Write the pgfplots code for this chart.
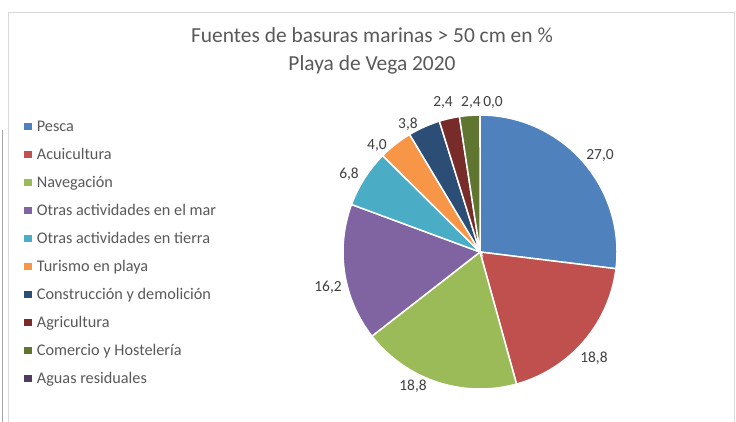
\documentclass[border=0pt]{standalone}
\usepackage{pgfplots}
\pgfplotsset{compat=1.18}
\usepackage{pgfplotstable}
\usepackage{fontspec}
\setmainfont{Carlito}

\definecolor{pc0}{HTML}{4F81BD}
\definecolor{pc1}{HTML}{C0504D}
\definecolor{pc2}{HTML}{9BBB59}
\definecolor{pc3}{HTML}{8064A2}
\definecolor{pc4}{HTML}{4BACC6}
\definecolor{pc5}{HTML}{F79646}
\definecolor{pc6}{HTML}{2C4D75}
\definecolor{pc7}{HTML}{772C2A}
\definecolor{pc8}{HTML}{5F7530}
\definecolor{pc9}{HTML}{4D3B62}
\definecolor{ttl}{HTML}{595959}
\definecolor{lbl}{HTML}{404040}

% value = share in %, lx/ly = position of the data label (pie radius = 1)
\pgfplotstableread{
value lx ly
27.0  0.876  0.708
18.8  0.832 -0.774
18.8 -0.489 -0.978
16.2 -1.109 -0.255
6.8  -0.956  0.569
4.0  -0.752  0.781
3.8  -0.526  0.934
2.4  -0.270  1.088
2.4  -0.066  1.088
0.0   0.095  1.088
}\piedata

\def\pietotal{0}
\pgfplotsforeachungrouped \i in {0,...,9}{%
  \pgfplotstablegetelem{\i}{value}\of\piedata
  \pgfmathsetmacro\pietotal{\pietotal+\pgfplotsretval}%
}
\def\cum{90}
\pgfplotsforeachungrouped \i in {0,...,9}{%
  \pgfplotstablegetelem{\i}{value}\of\piedata
  \pgfmathsetmacro\nxt{\cum-\pgfplotsretval/\pietotal*360}%
  \expandafter\xdef\csname aS\i\endcsname{\nxt}%
  \expandafter\xdef\csname aE\i\endcsname{\cum}%
  \global\let\cum\nxt
}

\begin{document}
\begin{tikzpicture}[x=1bp,y=1bp]
\useasboundingbox (0,0) rectangle (736,421);
\fill[white] (0,0) rectangle (736,421);
\draw[color=black!15, line width=0.8bp] (8,-5) -- (8,409) -- (734,409) -- (734,-5);
\draw[color=black!35, line width=1bp] (2,291) -- (2,-5);

\node[anchor=base, font=\fontsize{21.5}{24}\selectfont, text=ttl] at (372,379) {Fuentes de basuras marinas > 50 cm en \%};
\node[anchor=base, font=\fontsize{21.5}{24}\selectfont, text=ttl] at (372,351) {Playa de Vega 2020};

\begin{axis}[
  at={(480bp,169bp)}, anchor=center,
  scale only axis, width=274bp, height=274bp,
  xmin=-1, xmax=1, ymin=-1, ymax=1,
  hide axis, clip=false,
  legend image code/.code={\fill[#1] (0bp,-3.25bp) rectangle (6.5bp,3.25bp);},
  legend cell align=left,
  legend style={
    at={(axis description cs:-1.1642,0.978)}, anchor=north west,
    draw=none, fill=none, inner sep=0pt, outer sep=0pt,
    column sep=6bp, row sep=18bp,
    nodes={inner sep=0pt, text height=10bp, text depth=0bp,
           font=\fontsize{16.3}{18}\selectfont, text=ttl},
  },
  legend entries={Pesca, Acuicultura, Navegación, Otras actividades en el mar,
    Otras actividades en tierra, Turismo en playa, Construcción y demolición,
    Agricultura, Comercio y Hostelería, Aguas residuales},
]
\pgfplotsinvokeforeach{0,...,8}{%
  \addplot[fill=pc#1, draw=white, line width=1.5bp, forget plot,
    domain=\csname aS#1\endcsname:\csname aE#1\endcsname, samples=80]
    ({cos(x)},{sin(x)}) -- (axis cs:0,0) -- cycle;
}
\addplot[draw=none, mark=none, forget plot,
  point meta=explicit, nodes near coords, nodes near coords align=center,
  /pgf/number format/use comma, /pgf/number format/fixed,
  /pgf/number format/fixed zerofill, /pgf/number format/precision=1,
  /pgf/number format/assume math mode=true,
  every node near coord/.append style={anchor=center, inner sep=0pt,
    font=\fontsize{15.5}{17}\selectfont, text=lbl}]
  table[x=lx, y=ly, meta=value] {\piedata};
\pgfplotsinvokeforeach{0,...,9}{\addlegendimage{pc#1}}
\end{axis}
\end{tikzpicture}
\end{document}
